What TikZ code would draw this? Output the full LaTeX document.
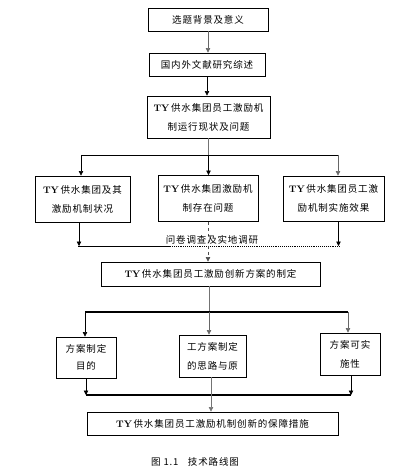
\documentclass[tikz,border=0pt]{standalone}
\usepackage{fontspec}
\newfontfamily\cjk[LetterSpace=9]{Noto Sans CJK SC}
\usetikzlibrary{arrows.meta}
\newcommand\TYb{{\rmfamily\bfseries TY}\,}
\tikzset{
  box/.style={draw, line width=0.9pt, inner sep=0pt, align=center,
    font=\cjk\fontsize{9.5}{19}\selectfont},
  arr/.style={-{Triangle[length=4.5pt,width=4.5pt]}, line width=0.6pt},
  gline/.style={draw=black!55, line width=0.8pt},
  hline/.style={line width=1.1pt},
  lbl/.style={font=\cjk\fontsize{9.5}{11}\selectfont, inner sep=0pt}
}
\begin{document}
\begin{tikzpicture}[x=1pt,y=-1pt]
\useasboundingbox[fill=white] (0,0) rectangle (409,473);
% boxes
\node[box, minimum width=120pt, minimum height=23pt] (b1) at (208,19.5) {选题背景及意义};
\node[box, minimum width=116pt, minimum height=23pt] (b2) at (207,64.5) {国内外文献研究综述};
\node[box, minimum width=123pt, minimum height=42pt] (b3) at (208.5,117) {\TYb 供水集团员工激励机\\制运行现状及问题};
\node[box, minimum width=95pt, minimum height=46pt] (bL) at (82.5,199) {\TYb 供水集团及其\\激励机制状况};
\node[box, minimum width=100pt, minimum height=46pt] (bM) at (208,198.5) {\TYb 供水集团激励机\\制存在问题};
\node[box, minimum width=101pt, minimum height=45pt] (bR) at (333.5,198.5) {\TYb 供水集团员工激\\励机制实施效果};
\node[box, minimum width=219pt, minimum height=24pt] (b4) at (210.5,274) {\TYb 供水集团员工激励创新方案的制定};
\node[box, minimum width=60pt, minimum height=41pt, font=\cjk\fontsize{9.5}{17}\selectfont] (bA) at (86,357.5) {方案制定\\目的};
\node[box, minimum width=67pt, minimum height=42pt] (bB) at (212.5,356) {工方案制定\\的思路与原};
\node[box, minimum width=60pt, minimum height=42pt] (bC) at (350,354) {方案可实\\施性};
\node[box, minimum width=251pt, minimum height=23pt] (b5) at (212.5,423.5) {\TYb 供水集团员工激励机制创新的保障措施};
\node[lbl] (cap) at (195,462) {图 1.1\quad 技术路线图};
% junction coordinates
\coordinate (j1) at (209,155);
\coordinate (j2) at (0,246);
\coordinate (j3) at (209,312);
\coordinate (j4) at (0,395);
% top chain
\draw[arr, black!60] (b1.south) -- (b1.south |- b2.north);
\draw[arr] (b2.south) -- (b2.south |- b3.north);
% first fan out
\draw[gline] (b3.south) -- (b3.south |- j1);
\draw[line width=0.8pt] ([xshift=-1.5pt]bL.north |- j1) -- ([xshift=4.5pt]bR.north |- j1);
\draw[arr] ([xshift=-1.5pt]bL.north |- j1) -- ([xshift=-1.5pt]bL.north);
\draw[arr] (b3.south |- j1) -- (b3.south |- bM.north);
\draw[arr, black!60] ([xshift=4.5pt]bR.north |- j1) -- ([xshift=4.5pt]bR.north);
% collect
\draw[arr] ([xshift=-3.5pt]bL.south) -- ([xshift=-3.5pt]bL.south |- j2);
\draw[arr] ([xshift=5pt]bR.south) -- ([xshift=5pt]bR.south |- j2);
\coordinate (dm) at (170,246);
\draw[line width=0.8pt] ([xshift=-4.5pt]bL.south |- j2) -- (dm);
\draw[line width=0.9pt, densely dotted] (dm) -- ([xshift=6.5pt]bR.south |- j2);
\draw[arr, dashed, black!70] (bM.south) -- (bM.south |- b4.north);
\node[lbl, fill=white, fill opacity=0.6, text opacity=1] (q) at (212,240) {问卷调查及实地调研};
% second fan out
\draw[gline] (b4.south -| j3) -- (j3);
\draw[hline] ([xshift=-1pt]bA.north |- j3) -- ([xshift=-2pt]bC.north |- j3);
\draw[arr] ([xshift=-1pt]bA.north |- j3) -- ([xshift=-1pt]bA.north);
\draw[arr, black!60] (j3) -- (j3 |- bB.north);
\draw[arr, black!60] ([xshift=-2pt]bC.north |- j3) -- ([xshift=-2pt]bC.north);
% collect
\draw[arr] (bA.south) -- (bA.south |- j4);
\draw[arr] ([xshift=1pt]bC.south) -- ([xshift=1pt]bC.south |- j4);
\draw[hline] (bA.south |- j4) -- ([xshift=1pt]bC.south |- j4);
\draw[arr, black!55] ([xshift=-1.5pt]bB.south) -- ([xshift=-1.5pt]bB.south |- b5.north);
\end{tikzpicture}
\end{document}
